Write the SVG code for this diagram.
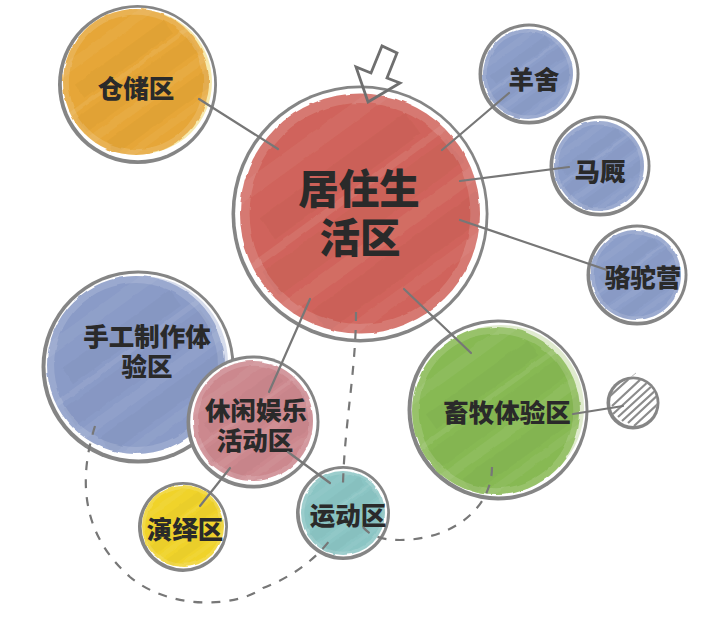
<svg xmlns="http://www.w3.org/2000/svg" xmlns:xlink="http://www.w3.org/1999/xlink" width="720" height="619" viewBox="0 0 720 619">
<style>
.o{fill:#858585}
.w{fill:#fff}
.t{font-family:"Noto Sans CJK SC","Noto Sans",sans-serif;font-weight:900;font-size:25.5px;fill:#2a2a2a;text-anchor:middle}
.big{font-size:40.5px}
.c{fill:none;stroke:#777;stroke-width:2.2;stroke-linecap:round}
.d{fill:none;stroke:#777;stroke-width:2.2;stroke-dasharray:9 9}
</style>
<defs>
<filter id="rough" x="-5%" y="-5%" width="110%" height="110%">
<feTurbulence type="fractalNoise" baseFrequency="0.07" numOctaves="2" seed="4"/>
<feDisplacementMap in="SourceGraphic" scale="3" xChannelSelector="R" yChannelSelector="G"/>
</filter>
<clipPath id="u"><circle r="100"/></clipPath>
<g id="wash" clip-path="url(#u)">
<path fill-rule="evenodd" d="M-101 0A101 101 0 1 1 101 0A101 101 0 1 1 -101 0ZM-92 0A92 92 0 1 0 92 0A92 92 0 1 0 -92 0Z" fill="#fff" opacity=".14"/>
<g transform="rotate(-36)">
<rect x="-110" y="-78" width="220" height="14" fill="#fff" opacity=".05"/>
<rect x="-70" y="-46" width="150" height="22" fill="#000" opacity=".025"/>
<rect x="-110" y="-20" width="220" height="6" fill="#fff" opacity=".08"/>
<rect x="-95" y="-8" width="190" height="24" fill="#000" opacity=".02"/>
<rect x="-110" y="22" width="220" height="12" fill="#fff" opacity=".06"/>
<rect x="-80" y="42" width="170" height="22" fill="#000" opacity=".025"/>
<rect x="-110" y="70" width="220" height="10" fill="#fff" opacity=".05"/>
</g>
</g>
<clipPath id="hc"><circle cx="633" cy="403" r="24"/></clipPath>
</defs>
<g id="nodes">
<g id="cangchu"><circle class="o" cx="137.5" cy="84.5" r="79.5"/><circle class="w" cx="138" cy="84" r="76.2"/><circle cx="140" cy="82" r="72" fill="#f6e9ae"/><g filter="url(#rough)"><circle cx="136" cy="82" r="73" fill="#e6a637"/><use xlink:href="#wash" href="#wash" transform="translate(136 82) scale(.73)"/></g><text class="t" x="136" y="98">仓储区</text></g>
<g id="jumin"><circle class="o" cx="360" cy="214" r="128.5"/><circle class="w" cx="360.4" cy="213.6" r="125.3"/><g filter="url(#rough)"><circle cx="360" cy="213.5" r="120" fill="#d0645b"/><use xlink:href="#wash" href="#wash" transform="translate(360 213.5) scale(1.2)"/></g><text class="t big"><tspan x="359" y="204">居住生</tspan><tspan x="360" y="253">活区</tspan></text></g>
<g id="yangshe"><circle class="o" cx="529" cy="74" r="50.5"/><circle class="w" cx="529.4" cy="73.6" r="47.2"/><g filter="url(#rough)"><circle cx="528" cy="74" r="45" fill="#8c9ec9"/><use xlink:href="#wash" href="#wash" transform="translate(528 74) scale(.45)"/></g><text class="t" x="534" y="89">羊舍</text></g>
<g id="majiu"><circle class="o" cx="600" cy="166" r="50.5"/><circle class="w" cx="600.4" cy="165.6" r="47.2"/><g filter="url(#rough)"><circle cx="599" cy="166" r="45" fill="#8c9ec9"/><use xlink:href="#wash" href="#wash" transform="translate(599 166) scale(.45)"/></g><text class="t" x="600" y="181">马厩</text></g>
<g id="luotuo"><circle class="o" cx="637" cy="275" r="50.5"/><circle class="w" cx="637.4" cy="274.6" r="47.2"/><g filter="url(#rough)"><circle cx="636" cy="275" r="45" fill="#8c9ec9"/><use xlink:href="#wash" href="#wash" transform="translate(636 275) scale(.45)"/></g><text class="t" x="643" y="287">骆驼营</text></g>
<g id="shougong"><circle class="o" cx="138" cy="367" r="96.5"/><circle class="w" cx="138.5" cy="366.5" r="93"/><circle cx="141" cy="363" r="87" fill="#d6dcec"/><g filter="url(#rough)"><circle cx="136" cy="365" r="89" fill="#8a9bc7"/><use xlink:href="#wash" href="#wash" transform="translate(136 365) scale(.89)"/></g><text class="t"><tspan x="147" y="346">手工制作体</tspan><tspan x="147" y="376">验区</tspan></text></g>
<g id="xiuxian"><circle class="o" cx="253" cy="422" r="66.5"/><circle class="w" cx="253.4" cy="421.6" r="63.2"/><g filter="url(#rough)"><circle cx="253" cy="421" r="60" fill="#cc888e"/><use xlink:href="#wash" href="#wash" transform="translate(253 421) scale(.6)"/></g><text class="t"><tspan x="256" y="420">休闲娱乐</tspan><tspan x="255" y="450">活动区</tspan></text></g>
<g id="yanyi"><circle class="o" cx="183" cy="527" r="45"/><circle class="w" cx="183.4" cy="526.6" r="41.8"/><g filter="url(#rough)"><circle cx="183" cy="526" r="41" fill="#f0d32a"/><use xlink:href="#wash" href="#wash" transform="translate(183 526) scale(.41)"/></g><text class="t" x="185" y="539">演绎区</text></g>
<g id="yundong"><circle class="o" cx="343" cy="513" r="47"/><circle class="w" cx="343.4" cy="512.6" r="43.8"/><g filter="url(#rough)"><circle cx="343" cy="513" r="42" fill="#8bc5c4"/><use xlink:href="#wash" href="#wash" transform="translate(343 513) scale(.42)"/></g><text class="t" x="348" y="525">运动区</text></g>
<g id="xumu"><circle class="o" cx="498" cy="410" r="90.5"/><circle class="w" cx="498.5" cy="409.5" r="87"/><circle cx="501" cy="408" r="83" fill="#e0ebcf"/><g filter="url(#rough)"><circle cx="496" cy="411" r="84" fill="#87b953"/><use xlink:href="#wash" href="#wash" transform="translate(496 411) scale(.84)"/></g><text class="t" x="507" y="422">畜牧体验区</text></g>
<g id="hatch"><circle class="o" cx="633" cy="403" r="26.5"/><circle class="w" cx="633.4" cy="402.6" r="23.3"/><path clip-path="url(#hc)" d="M608 398L632 376M612 406L642 378M613 414L650 380M618 417L654 384M622 421L658 388M628 423L660 393M634 426L662 400" fill="none" stroke="#8c8c8c" stroke-width="2.2"/><path d="M631 377L636 373" stroke="#bbb" stroke-width="1" fill="none"/></g>
<g id="arrow"><path d="M368 102L400 83L387 78L397 53L382 46L371 73L356 67Z" fill="none" stroke="#6f6f6f" stroke-width="2.8"/></g>
</g>
<g id="connectors">
<path class="c" d="M199 99L278 149"/>
<path class="c" d="M509 93L442 150"/>
<path class="c" d="M569 167L460 181"/>
<path class="c" d="M607 270L460 220"/>
<path class="c" d="M310 299L269 392"/>
<path class="c" d="M404 289L471 353"/>
<path class="c" d="M288 452L330 483"/>
<path class="c" d="M230 468L200 506"/>
<path class="c" d="M573 414L623 406"/>
<path class="d" d="M356 312C356 370 345 420 343 483"/>
<path class="d" d="M95 426C75 490 88 540 130 577C170 610 235 608 263 588C290 578 315 560 330 540"/>
<path class="d" d="M492 467C492 510 450 540 400 540C380 540 365 535 359 520"/>
</g>
</svg>
